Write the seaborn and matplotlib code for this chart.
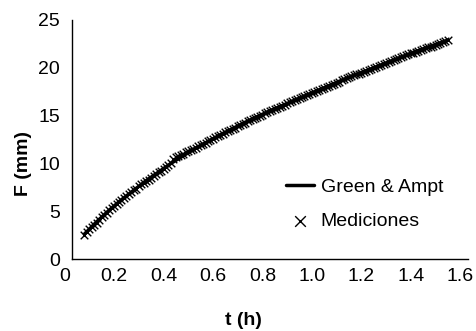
import matplotlib
matplotlib.use("Agg")
import matplotlib.pyplot as plt
import matplotlib.transforms as mtransforms
import seaborn as sns
import pandas as pd

# Green & Ampt model curve
t_model = [0.05, 0.10, 0.15, 0.20, 0.25, 0.30, 0.35, 0.40, 0.50, 0.60, 0.70,
           0.80, 0.90, 1.00, 1.10, 1.20, 1.30, 1.40, 1.50, 1.52]
f_model = [2.6, 3.9, 5.1, 6.2, 7.2, 8.2, 9.1, 10.0, 11.6, 13.0, 14.3,
           15.5, 16.6, 17.7, 18.8, 19.8, 20.8, 21.8, 22.7, 22.9]

# Measurements (Mediciones)
t_meas = [0.05, 0.06, 0.07, 0.08, 0.09, 0.10, 0.11, 0.12, 0.13, 0.14,
          0.15, 0.16, 0.17, 0.18, 0.19, 0.20, 0.21, 0.22, 0.23, 0.24,
          0.25, 0.26, 0.27, 0.28, 0.29, 0.30, 0.31, 0.32, 0.33, 0.34,
          0.35, 0.36, 0.37, 0.38, 0.39, 0.40, 0.41, 0.42, 0.43, 0.44,
          0.45, 0.46, 0.47, 0.48, 0.49, 0.50, 0.51, 0.52, 0.53, 0.54,
          0.55, 0.56, 0.57, 0.58, 0.59, 0.60, 0.61, 0.62, 0.63, 0.64,
          0.65, 0.66, 0.67, 0.68, 0.69, 0.70, 0.71, 0.72, 0.73, 0.74,
          0.75, 0.76, 0.77, 0.78, 0.79, 0.80, 0.81, 0.82, 0.83, 0.84,
          0.85, 0.86, 0.87, 0.88, 0.89, 0.90, 0.91, 0.92, 0.93, 0.94,
          0.95, 0.96, 0.97, 0.98, 0.99, 1.00, 1.01, 1.02, 1.03, 1.04,
          1.05, 1.06, 1.07, 1.08, 1.09, 1.10, 1.11, 1.12, 1.13, 1.14,
          1.15, 1.16, 1.17, 1.18, 1.19, 1.20, 1.21, 1.22, 1.23, 1.24,
          1.25, 1.26, 1.27, 1.28, 1.29, 1.30, 1.31, 1.32, 1.33, 1.34,
          1.35, 1.36, 1.37, 1.38, 1.39, 1.40, 1.41, 1.42, 1.43, 1.44,
          1.45, 1.46, 1.47, 1.48, 1.49, 1.50, 1.51, 1.52]
f_meas = [2.5, 2.8, 3.1, 3.3, 3.6, 3.8, 4.1, 4.35, 4.6, 4.8,
          5.1, 5.3, 5.5, 5.8, 6.0, 6.2, 6.4, 6.55, 6.8, 7.0,
          7.2, 7.35, 7.6, 7.8, 7.95, 8.15, 8.3, 8.5, 8.7, 8.85,
          9.1, 9.25, 9.4, 9.6, 9.8, 10.0, 10.5, 10.65, 10.8, 10.9,
          11.0, 11.15, 11.3, 11.4, 11.5, 11.65, 11.8, 11.9, 12.0, 12.15,
          12.3, 12.45, 12.6, 12.75, 12.9, 13.0, 13.1, 13.25, 13.4, 13.5,
          13.6, 13.75, 13.9, 14.0, 14.1, 14.25, 14.4, 14.5, 14.6, 14.75,
          14.9, 15.0, 15.1, 15.25, 15.4, 15.5, 15.6, 15.7, 15.8, 15.9,
          16.0, 16.15, 16.3, 16.4, 16.5, 16.6, 16.7, 16.8, 16.9, 17.05,
          17.2, 17.3, 17.4, 17.5, 17.6, 17.7, 17.8, 17.9, 18.0, 18.1,
          18.2, 18.3, 18.4, 18.55, 18.7, 18.8, 18.9, 19.0, 19.1, 19.2,
          19.3, 19.4, 19.5, 19.6, 19.7, 19.8, 19.9, 20.0, 20.1, 20.2,
          20.3, 20.4, 20.5, 20.6, 20.7, 20.8, 20.9, 21.0, 21.1, 21.2,
          21.3, 21.4, 21.5, 21.6, 21.7, 21.8, 21.9, 22.0, 22.1, 22.15,
          22.2, 22.3, 22.4, 22.5, 22.6, 22.7, 22.8, 22.9]

x_ticks = [0, 0.2, 0.4, 0.6, 0.8, 1.0, 1.2, 1.4, 1.6]
x_tick_labels = ["0", "0.2", "0.4", "0.6", "0.8", "1.0", "1.2", "1.4", "1.6"]
y_ticks = [0, 5, 10, 15, 20, 25]

sns.set_theme(style="white")
plt.rcParams["font.family"] = ["Liberation Sans", "DejaVu Sans"]

df_model = pd.DataFrame({"t": t_model, "F": f_model})
df_meas = pd.DataFrame({"t": t_meas, "F": f_meas})

fig = plt.figure(figsize=(4.76, 3.31), dpi=100)
ax = fig.add_axes([72 / 476, 1 - 259 / 331, (467.7 - 72) / 476, (259 - 20) / 331])

sns.lineplot(data=df_model, x="t", y="F", ax=ax, color="black", linewidth=2.5,
             label="Green & Ampt")
sns.scatterplot(data=df_meas, x="t", y="F", ax=ax, marker="x", color="black",
                s=30, linewidth=1.0, label="Mediciones")

ax.set_xlim(0, 1.6)
ax.set_ylim(0, 25)
ax.set_xticks(x_ticks)
ax.set_xticklabels(x_tick_labels)
ax.set_yticks(y_ticks)
ax.tick_params(axis="both", which="major", labelsize=14, length=4.5, width=1,
               color="black", direction="out", labelcolor="black")
ax.tick_params(axis="x", pad=2)
ax.tick_params(axis="y", pad=4.2)
for side in ["top", "right"]:
    ax.spines[side].set_visible(False)
for side in ["left", "bottom"]:
    ax.spines[side].set_color("black")
    ax.spines[side].set_linewidth(1)

shift = mtransforms.ScaledTranslation(-7.5 / 100, 0, fig.dpi_scale_trans)
for lbl in ax.get_xticklabels():
    lbl.set_transform(lbl.get_transform() + shift)

ax.set_xlabel("t (h)", fontsize=14, fontweight="bold", color="black")
ax.set_ylabel("F (mm)", fontsize=14, fontweight="bold", color="black")
ax.xaxis.set_label_coords(0.432, -0.222)
ax.yaxis.set_label_coords(-0.101, 0.40)

leg = ax.legend(loc="upper left", bbox_to_anchor=(0.540, 0.339), frameon=False,
                fontsize=14, handlelength=1.45, handletextpad=0.35,
                labelspacing=0.86, borderpad=0, borderaxespad=0,
                markerscale=1.4)
for txt in leg.get_texts():
    txt.set_color("black")

fig.savefig("out.png", dpi=100)
